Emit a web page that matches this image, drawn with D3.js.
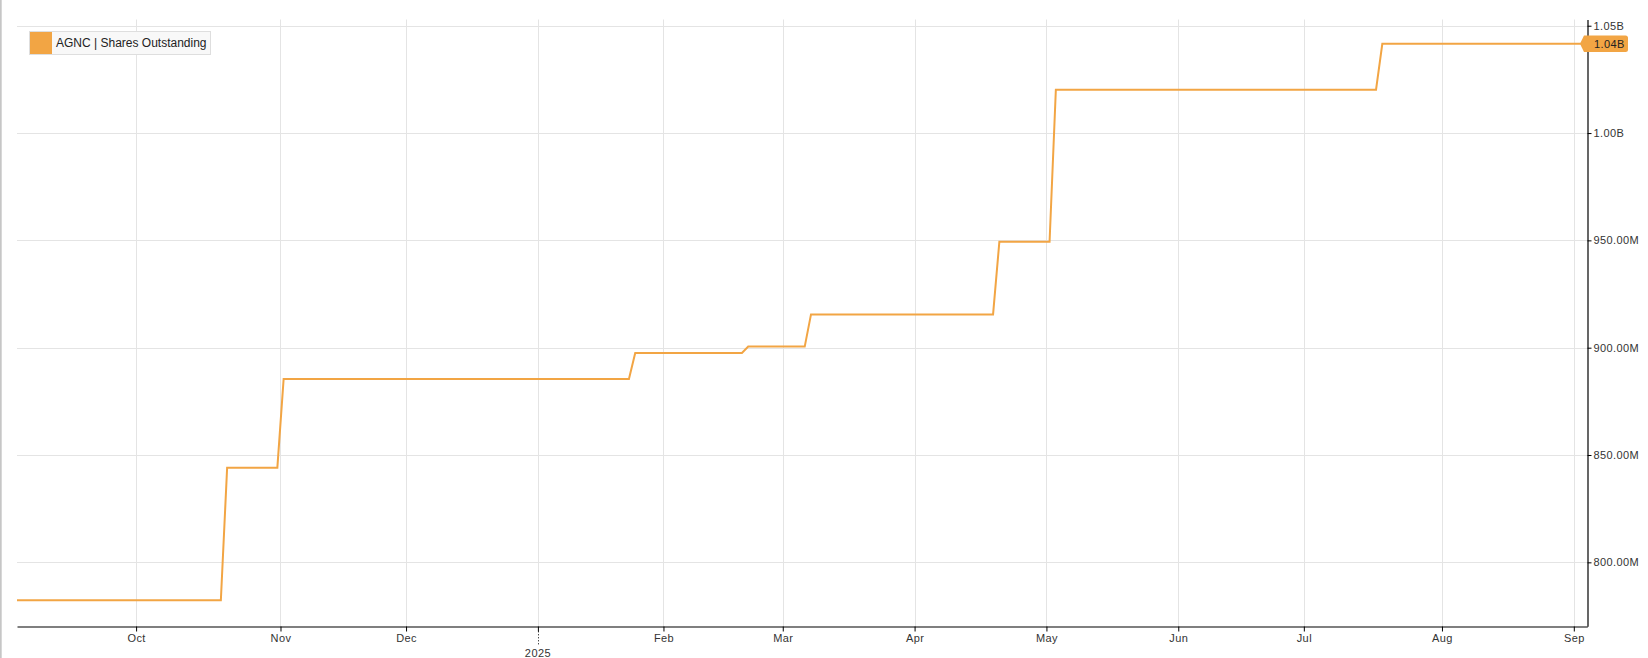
<!DOCTYPE html>
<html><head><meta charset="utf-8">
<script src="https://cdn.jsdelivr.net/npm/d3@7"></script>
<style>
html,body{margin:0;padding:0;background:#fff;}
svg{display:block;font-family:"Liberation Sans",Arial,sans-serif;}
</style></head><body>
<svg id="chart" width="1648" height="658"></svg>
<script>
// ---------- data ----------
const seriesName = "AGNC | Shares Outstanding";
const changeDates = ["2024-09-03","2024-10-21","2024-11-01","2025-01-27","2025-02-21","2025-03-07","2025-04-21","2025-05-02","2025-07-18"];
const sharesOutstanding = [782.3e6, 844.1e6, 885.4e6, 897.5e6, 900.5e6, 915.5e6, 949.3e6, 1020.2e6, 1041.6e6];
const yTicks = [800e6, 850e6, 900e6, 950e6, 1000e6, 1050e6];
const monthTickMonths = ["2024-10","2024-11","2024-12","2025-01","2025-02","2025-03","2025-04","2025-05","2025-06","2025-07","2025-08","2025-09"];
const monthTickLabels = ["Oct","Nov","Dec","","Feb","Mar","Apr","May","Jun","Jul","Aug","Sep"];
const yearTickMonth = "2025-01";
const yearLabel = "2025";
const lastValueLabel = "1.04B";
const marketHolidays = ["2024-11-28","2024-12-25","2025-01-01","2025-01-09","2025-01-20","2025-02-17","2025-04-18","2025-05-26","2025-06-19","2025-07-04","2025-09-01"];
const calendarStart = "2024-09-03", calendarEnd = "2025-09-03";

// ---------- layout ----------
const W = 1648, H = 658;
const plotL = 17, plotR = 1587.3, plotT = 19.5, plotB = 626.3;
const orange = "#f2a544";

// trading-day calendar (x axis is indexed by trading sessions)
const fmt = d3.utcFormat("%Y-%m-%d");
const holidaySet = new Set(marketHolidays);
const tradingDays = d3.utcDays(new Date(calendarStart + "T00:00:00Z"), d3.utcDay.offset(new Date(calendarEnd + "T00:00:00Z"), 1))
  .map(fmt)
  .filter(s => { const wd = new Date(s + "T00:00:00Z").getUTCDay(); return wd !== 0 && wd !== 6 && !holidaySet.has(s); });
const N = tradingDays.length;
const idxOf = new Map(tradingDays.map((d, i) => [d, i]));

const x = d3.scaleLinear().domain([0.53, N - 0.35]).range([plotL, plotR]);
const y = d3.scaleLinear().domain([770.2e6, 1052.9e6]).range([plotB, plotT]);

const svg = d3.select("#chart");
svg.append("rect").attr("x", 0).attr("y", 0).attr("width", W).attr("height", H).attr("fill", "#fff");
svg.append("rect").attr("x", 0).attr("y", 0).attr("width", 1.7).attr("height", H).attr("fill", "#c6c6c6");

// month tick positions: boundary before first session of each month
const tickPos = monthTickMonths.map(m => tradingDays.findIndex(d => d.startsWith(m)) - 0.5);
const yearPos = tradingDays.findIndex(d => d.startsWith(yearTickMonth)) - 0.5;

// gridlines
const grid = svg.append("g").attr("stroke", "#e4e4e4").attr("stroke-width", 1);
grid.selectAll("line.v").data(tickPos).join("line")
  .attr("x1", d => Math.round(x(d)) + 0.5).attr("x2", d => Math.round(x(d)) + 0.5)
  .attr("y1", plotT).attr("y2", plotB);
grid.selectAll("line.h").data(yTicks).join("line")
  .attr("x1", plotL).attr("x2", plotR)
  .attr("y1", d => Math.round(y(d)) + 0.5).attr("y2", d => Math.round(y(d)) + 0.5);

// series line
svg.append("clipPath").attr("id", "clip").append("rect")
  .attr("x", plotL).attr("y", plotT).attr("width", plotR - plotL).attr("height", plotB - plotT);
const pts = [];
changeDates.forEach((d, i) => {
  const s = idxOf.get(d);
  const e = i < changeDates.length - 1 ? idxOf.get(changeDates[i + 1]) - 1 : N - 1;
  pts.push([s, sharesOutstanding[i]], [e, sharesOutstanding[i]]);
});
svg.append("path").attr("clip-path", "url(#clip)")
  .attr("d", d3.line().x(d => x(d[0])).y(d => y(d[1]))(pts))
  .attr("fill", "none").attr("stroke", orange).attr("stroke-width", 2).attr("stroke-linejoin", "miter");

// x axis
const xAxis = svg.append("g").attr("transform", `translate(0,${Math.round(plotB) + 0.5})`)
  .call(d3.axisBottom(x).tickValues(tickPos).tickFormat((d, i) => monthTickLabels[i]).tickSize(5).tickSizeOuter(0));
xAxis.select(".domain").attr("stroke", "#000").attr("stroke-width", 1.2);
xAxis.selectAll(".tick line").attr("stroke", "#000");
xAxis.selectAll(".tick text").attr("font-size", 11).attr("fill", "#333").attr("letter-spacing", 0.4).attr("font-family", "Liberation Sans, Arial, sans-serif");
// year marker
svg.append("line").attr("x1", Math.round(x(yearPos)) + 0.5).attr("x2", Math.round(x(yearPos)) + 0.5)
  .attr("y1", plotB + 5).attr("y2", plotB + 20).attr("stroke", "#000").attr("stroke-dasharray", "1,2");
svg.append("text").attr("x", x(yearPos)).attr("y", 657).attr("text-anchor", "middle")
  .attr("font-size", 11).attr("fill", "#333").attr("letter-spacing", 0.4).text(yearLabel);

// y axis (right)
const fmtY = v => v >= 1e9 ? (v / 1e9).toFixed(2) + "B" : (v / 1e6).toFixed(2) + "M";
const yAxis = svg.append("g").attr("transform", `translate(${Math.round(plotR) + 0.5},0)`)
  .call(d3.axisRight(y).tickValues(yTicks).tickFormat(fmtY).tickSize(4).tickPadding(2).tickSizeOuter(0));
yAxis.select(".domain").attr("stroke", "#000").attr("stroke-width", 1.2);
yAxis.selectAll(".tick line").attr("stroke", "#000");
yAxis.selectAll(".tick text").attr("font-size", 11).attr("fill", "#333").attr("letter-spacing", 0.4).attr("font-family", "Liberation Sans, Arial, sans-serif");

// last value label
const lv = sharesOutstanding[sharesOutstanding.length - 1];
const ly = y(lv);
svg.append("path")
  .attr("d", `M1580,${ly} L1584,${ly - 8.3} H1625.5 Q1628,${ly - 8.3} 1628,${ly - 5.8} V${ly + 5.8} Q1628,${ly + 8.3} 1625.5,${ly + 8.3} H1584 Z`)
  .attr("fill", orange);
svg.append("text").attr("x", 1594).attr("y", ly).attr("dy", "0.35em")
  .attr("font-size", 11).attr("fill", "#222").attr("letter-spacing", 0.4).text(lastValueLabel);

// legend
const lg = svg.append("g");
lg.append("rect").attr("x", 29.5).attr("y", 31.5).attr("width", 181).attr("height", 23)
  .attr("fill", "#f8f8f8").attr("stroke", "#dedede");
lg.append("rect").attr("x", 30).attr("y", 32).attr("width", 22).attr("height", 22).attr("fill", orange);
lg.append("text").attr("x", 56).attr("y", 43).attr("dy", "0.35em").attr("font-size", 12).attr("fill", "#222").text(seriesName);
</script>
</body></html>
